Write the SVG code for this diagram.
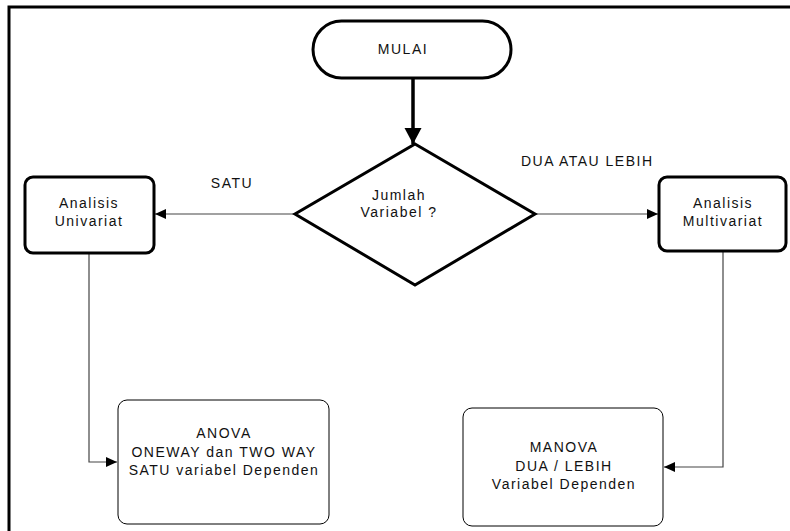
<svg xmlns="http://www.w3.org/2000/svg" width="790" height="531" viewBox="0 0 790 531">
<style>
text{font-family:"Liberation Sans",Arial,sans-serif;font-size:14px;letter-spacing:1.5px;fill:#111;text-anchor:middle}
.thick{fill:#fff;stroke:#000;stroke-width:3}
.thin{fill:#fff;stroke:#000;stroke-width:1}
.conn{fill:none;stroke:#444;stroke-width:1.2}
.lbl{text-anchor:start}
</style>
<defs>
<marker id="ah" markerUnits="userSpaceOnUse" markerWidth="12" markerHeight="12" viewBox="0 0 12 12" refX="11" refY="6" orient="auto">
<path d="M0,1 L11,6 L0,11 Z" fill="#000"/>
</marker>
<marker id="ahb" markerUnits="userSpaceOnUse" markerWidth="18" markerHeight="18" viewBox="0 0 18 18" refX="16" refY="9" orient="auto">
<path d="M0,0.5 L16,9 L0,17.5 Z" fill="#000"/>
</marker>
</defs>
<rect x="9" y="7" width="800" height="540" fill="#fff" stroke="#000" stroke-width="3"/>
<g id="connectors">
<line x1="413" y1="79" x2="413" y2="144" stroke="#000" stroke-width="3.5" marker-end="url(#ahb)"/>
<line class="conn" x1="295" y1="214" x2="155" y2="214" marker-end="url(#ah)"/>
<line class="conn" x1="535" y1="214" x2="658" y2="214" marker-end="url(#ah)"/>
<polyline class="conn" points="89,253 89,462 117,462" marker-end="url(#ah)"/>
<polyline class="conn" points="723,251 723,467 664,467" marker-end="url(#ah)"/>
<text x="232" y="188">SATU</text>
<text class="lbl" x="521" y="166">DUA ATAU LEBIH</text>
</g>
<g id="mulai">
<rect class="thick" x="313" y="21" width="198" height="57" rx="28.5"/>
<text x="403" y="54">MULAI</text>
</g>
<g id="jumlah">
<polygon class="thick" points="415,144 535,214 415,285 295,214"/>
<text x="399" y="200">Jumlah</text>
<text x="399" y="217">Variabel ?</text>
</g>
<g id="univariat">
<rect class="thick" x="25" y="177" width="129" height="76" rx="8"/>
<text x="89" y="208">Analisis</text>
<text x="89" y="226">Univariat</text>
</g>
<g id="multivariat">
<rect class="thick" x="659" y="177" width="127" height="74" rx="8"/>
<text x="723" y="208">Analisis</text>
<text x="723" y="226">Multivariat</text>
</g>
<g id="anova">
<rect class="thin" x="118" y="400" width="211" height="124" rx="9"/>
<text x="224" y="438">ANOVA</text>
<text x="224" y="457">ONEWAY dan TWO WAY</text>
<text x="224" y="475">SATU variabel Dependen</text>
</g>
<g id="manova">
<rect class="thin" x="463" y="408" width="200" height="118" rx="9"/>
<text x="564" y="452">MANOVA</text>
<text x="564" y="471">DUA / LEBIH</text>
<text x="564" y="489">Variabel Dependen</text>
</g>
</svg>
